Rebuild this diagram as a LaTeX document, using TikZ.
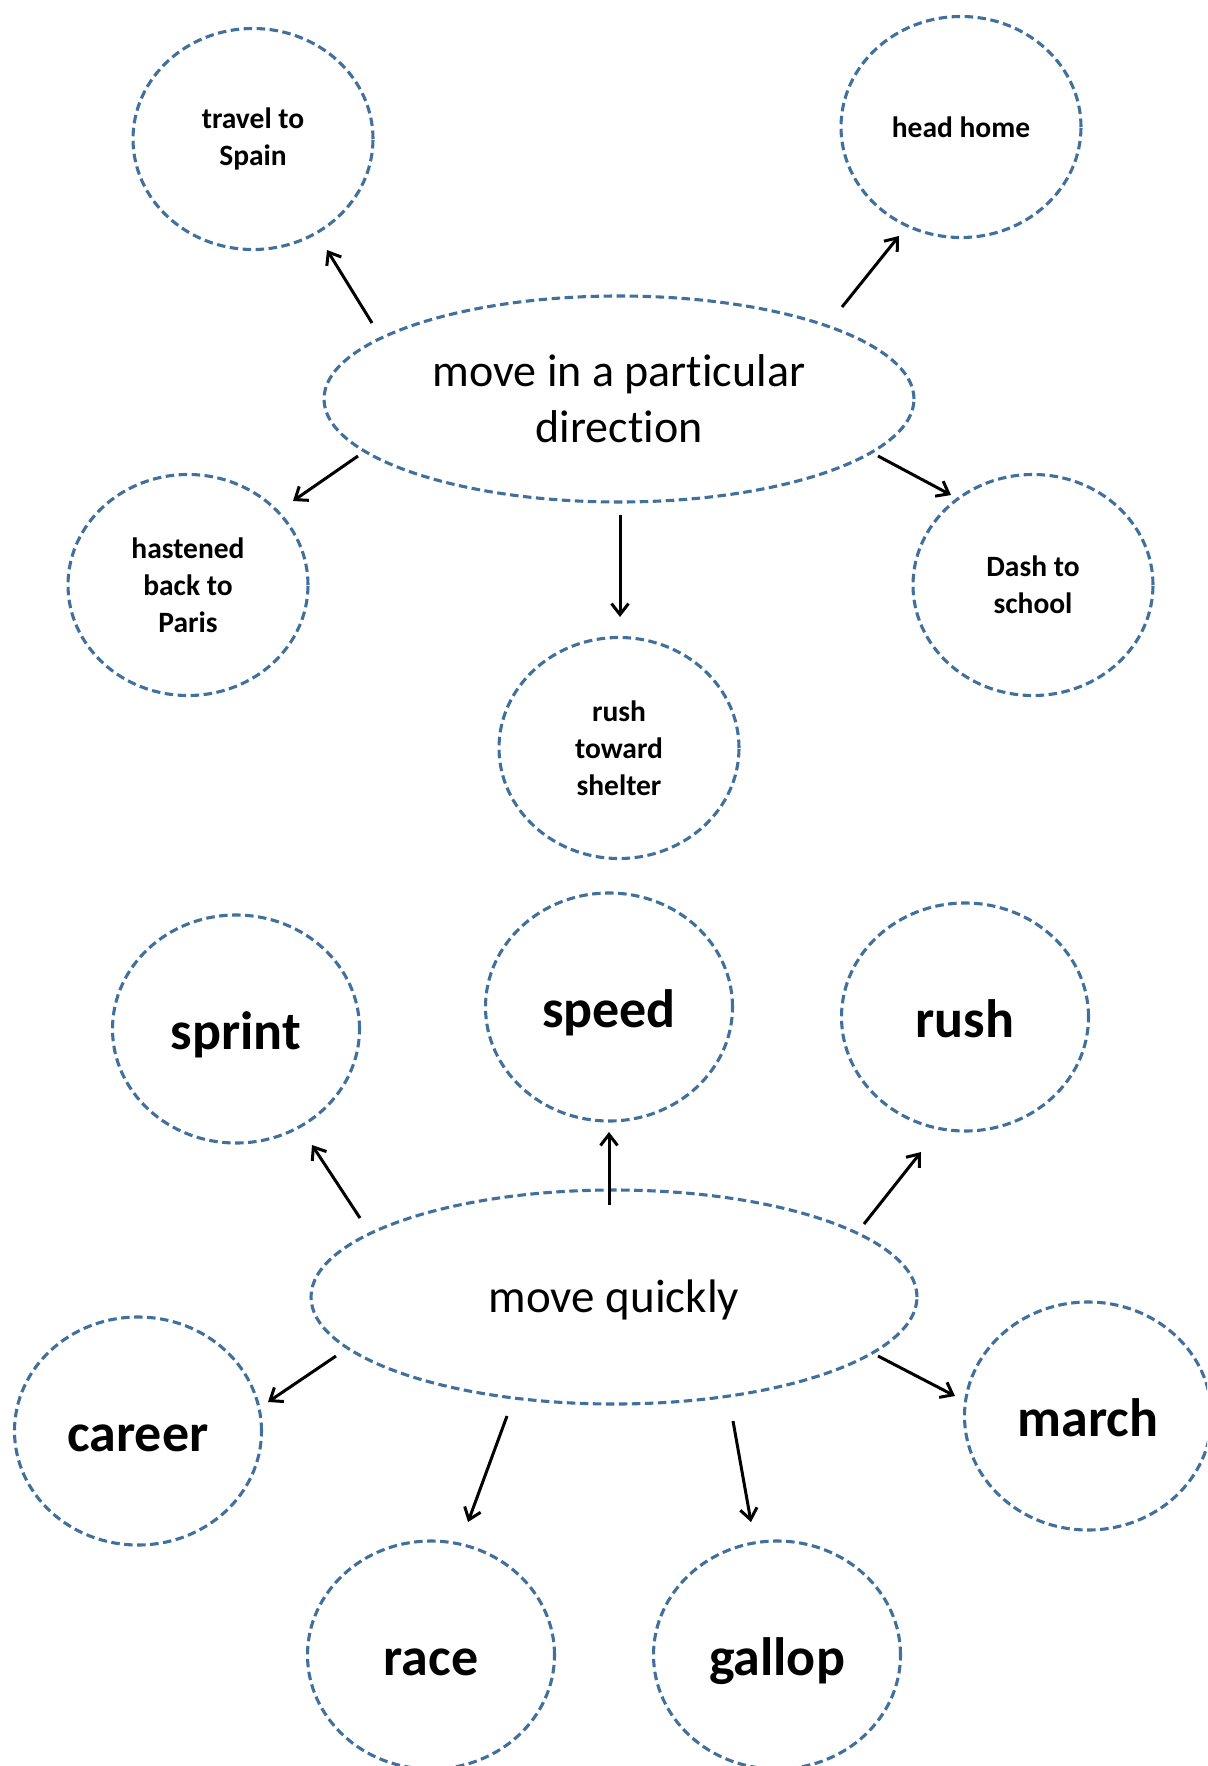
\documentclass[tikz,border=0pt]{standalone}
\usepackage{fontspec}
\setmainfont{Carlito}[RawFeature=-liga]
\usetikzlibrary{shapes.geometric,arrows.meta}
\definecolor{ringblue}{RGB}{65,112,156}
\tikzset{
  ring/.style={ellipse, draw=ringblue, line width=3.1pt, dash pattern=on 8.5pt off 4.5pt,
     inner sep=0pt, align=center, text=black},
  smallring/.style={ring, minimum width=240pt, minimum height=221pt, font=\fontsize{29.5}{37}\selectfont\bfseries},
  bigring/.style={ring, minimum width=247pt, minimum height=228pt, text height=52pt, text depth=11pt, font=\fontsize{54}{60}\selectfont\bfseries},
  hub/.style={ring},
  arr/.style={draw=black, line width=3pt, -{Straight Barb[length=11pt,width=17pt]}}
}
\begin{document}
\begin{tikzpicture}[x=1pt,y=-1pt]
\useasboundingbox (0,0) rectangle (1207,1766);
\clip (0,0) rectangle (1207,1766);

% top group
\node[hub, minimum width=590pt, minimum height=206pt, font=\fontsize{46}{56}\selectfont] (dir) at (619,399) {move in a particular\\direction};
\node[smallring] (spain) at (253,139) {travel to\\Spain};
\node[smallring] (home) at (961,127) {head home};
\node[smallring] (paris) at (188,585) {hastened\\back to\\Paris};
\node[smallring] (school) at (1033,585) {Dash to\\school};
\node[smallring] (shelter) at (619,748) {rush\\toward\\shelter};

% bottom group
\node[hub, minimum width=606pt, minimum height=214pt, text height=41pt, text depth=9.5pt, font=\fontsize{47}{56}\selectfont] (quick) at (614,1297) {move quickly};
\node[bigring] (sprint) at (236,1029) {sprint};
\node[bigring] (speed) at (609,1007) {speed};
\node[bigring] (rush) at (965,1017) {rush};
\node[bigring] (career) at (138,1431) {career};
\node[bigring] (march) at (1088,1416) {march};
\node[bigring] (race) at (431,1655) {race};
\node[bigring] (gallop) at (777,1655) {gallop};

% arrow end points
\coordinate (s1) at (372,323); \coordinate (e1) at (327,250);
\coordinate (s2) at (842,307); \coordinate (e2) at (899,236);
\coordinate (s3) at (358,456); \coordinate (e3) at (293,501);
\coordinate (s4) at (878,456); \coordinate (e4) at (951,495);
\coordinate (s5) at (620,515); \coordinate (e5) at (620,617);

\coordinate (s6) at (360,1218); \coordinate (e6) at (312,1145);
\coordinate (s7) at (609,1205); \coordinate (e7) at (609,1132);
\coordinate (s8) at (864,1224); \coordinate (e8) at (921,1152);
\coordinate (s9) at (336,1356); \coordinate (e9) at (268,1402);
\coordinate (s10) at (878,1356); \coordinate (e10) at (955,1396);
\coordinate (s11) at (507,1416); \coordinate (e11) at (468,1522);
\coordinate (s12) at (733,1421); \coordinate (e12) at (751,1522);

\foreach \i in {1,...,12} {\draw[arr] (s\i) -- (e\i);}
\end{tikzpicture}
\end{document}
